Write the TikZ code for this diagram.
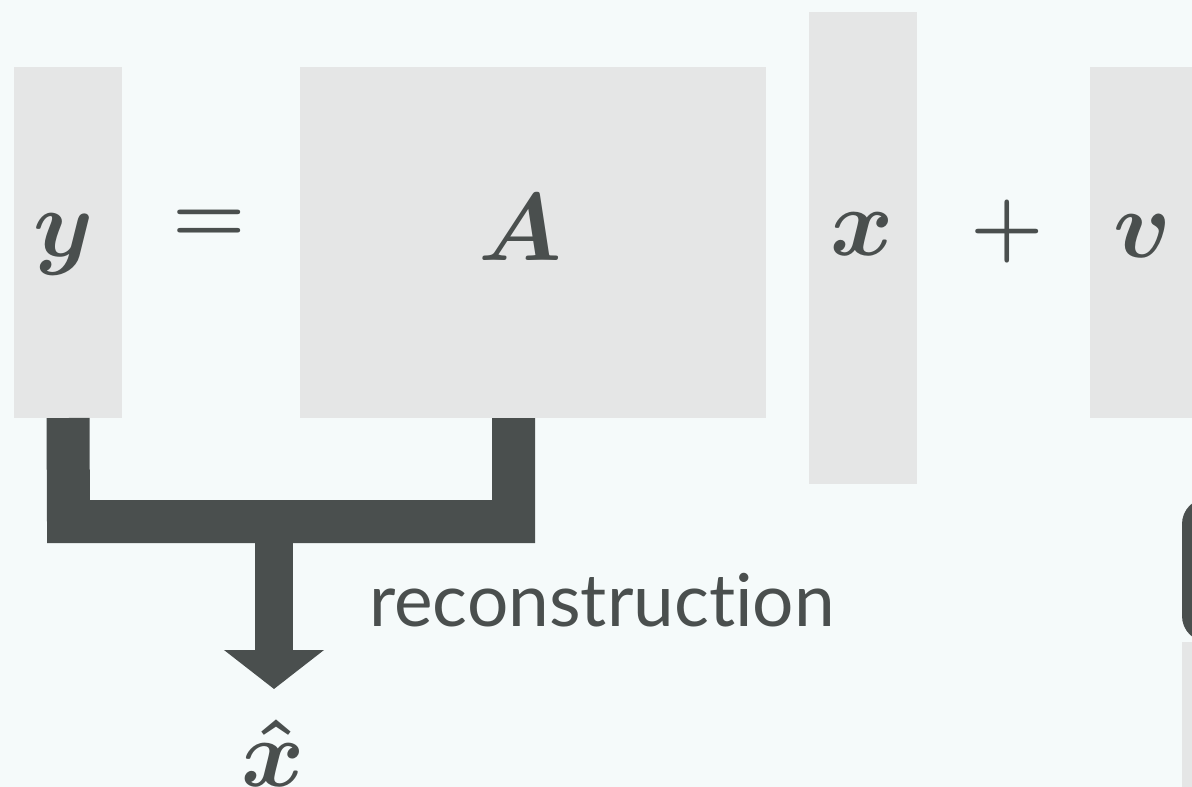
\RequirePackage{fix-cm}
\documentclass[tikz,border=0pt]{standalone}
\usepackage{bm}
\usepackage{fontspec}
\newfontfamily\labelfont{Lato}[Ligatures=NoCommon]
\usetikzlibrary{arrows.meta}
\definecolor{bg}{HTML}{F5FAFA}
\definecolor{boxgray}{HTML}{E5E6E6}
\definecolor{ink}{HTML}{4A4F4E}
\begin{document}
\begin{tikzpicture}[x=1pt,y=-1pt,
  blk/.style={fill=boxgray,draw=none,inner sep=0pt,outer sep=0pt,anchor=north west},
  sym/.style={text=ink,inner sep=0pt,anchor=base,font=\fontsize{96}{96}\selectfont\boldmath},
  op/.style={text=ink,inner sep=0pt,font=\fontsize{84}{84}\selectfont\boldmath},
  bracket/.style={draw=ink,line width=43pt,line join=miter,line cap=butt},
  stem/.style={draw=ink,line width=38pt,-{Triangle[width=98pt,length=39pt]}}]
\fill[bg] (0,0) rectangle (1192,787);
\useasboundingbox (0,0) rectangle (1192,787);
% boxes
\node[blk,minimum width=108pt,minimum height=351pt] (ybox) at (14,67) {};
\node[blk,minimum width=466pt,minimum height=351pt] (Abox) at (300,67) {};
\node[blk,minimum width=108pt,minimum height=472pt] (xbox) at (809,12) {};
\node[blk,minimum width=120pt,minimum height=351pt] (vbox) at (1090,67) {};
% letters
\node[sym] (ylab) at (64,256) {$y$};
\node[op] (eq) at (209,226) {$=$};
\node[sym] (Alab) at (520,260) {$A$};
\node[sym] (xlab) at (862,255) {$x$};
\node[op] (plus) at (1007,231) {$+$};
\node[sym] (vlab) at (1142,257) {$v$};
% bracket
\coordinate (bl) at (68.5,521.5);
\coordinate (br) at (513.5,521.5);
\coordinate (atop) at (513.5,418);
\coordinate (stemtop) at (274,543);
\coordinate (tip) at (274,689);
\draw[bracket] (ybox.south) -- (bl) -- (br) -- (atop);
\draw[stem] (stemtop) -- (tip);
\node[text=ink,inner sep=0pt,anchor=base west,font=\labelfont\fontsize{73}{73}\selectfont] (rec) at (369,626) {reconstruction};
\node[sym] (xhat) at (273.5,786) {$\hat{x}$};
% partial element at right
\fill[ink,rounded corners=26pt] (1182,642) -- (1182,498) -- (1230,498) -- (1230,642) -- cycle;
\fill[boxgray] (1182,642) rectangle (1230,800);
\end{tikzpicture}
\end{document}
